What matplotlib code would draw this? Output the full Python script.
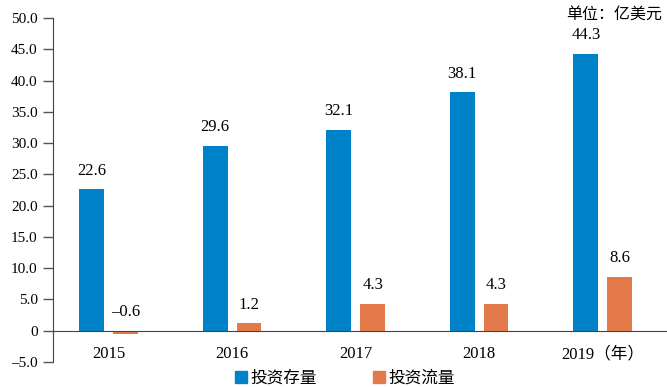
import numpy as np
import matplotlib.pyplot as plt
from matplotlib.lines import Line2D

years = ['2015', '2016', '2017', '2018', '2019（年）']
stock = [22.6, 29.6, 32.1, 38.1, 44.3]
flow = [-0.6, 1.2, 4.3, 4.3, 8.6]
flow_labels = ['–0.6', '1.2', '4.3', '4.3', '8.6']
yticks = [-5, 0, 5, 10, 15, 20, 25, 30, 35, 40, 45, 50]
ytick_labels = ['–5.0', '0', '5.0', '10.0', '15.0', '20.0', '25.0', '30.0',
                '35.0', '40.0', '45.0', '50.0']

blue = '#0082C8'
orange = '#E4794A'
fam = ['Liberation Serif', 'Noto Sans CJK SC']
cjk = ['Noto Sans CJK SC', 'DejaVu Sans']
plt.rcParams['font.family'] = fam

fig = plt.figure(figsize=(6.67, 3.87), dpi=100)
ax = fig.add_axes([53/667, 25/387, 1 - 53/667, 1 - 18/387 - 25/387])

x = np.arange(len(years))
w = 0.2
off = 0.137
ax.bar(x - off, stock, w, color=blue)
ax.bar(x + off, flow, w, color=orange)

for i in range(len(x)):
    ax.text(x[i] - off, stock[i] + 1.7, '%.1f' % stock[i], ha='center', va='bottom', fontsize=12)
    ax.text(x[i] + off, max(flow[i], 0) + 1.7, flow_labels[i], ha='center', va='bottom', fontsize=12)

ax.set_xlim(-0.45, 4.52)
ax.set_ylim(-5, 50)
ax.set_yticks(yticks)
ax.set_yticklabels(ytick_labels, fontsize=11)
ax.tick_params(axis='y', length=7, width=1, color='#555555', direction='out', pad=4)

ax.spines['top'].set_visible(False)
ax.spines['right'].set_visible(False)
ax.spines['left'].set_color('#444444')
ax.spines['bottom'].set_position(('data', 0))
ax.spines['bottom'].set_color('#444444')
ax.set_xticks(x)
ax.set_xticklabels(years, fontsize=12)
for lab in ax.get_xticklabels():
    lab.set_family(fam)
ax.tick_params(axis='x', length=0, pad=11)

fig.text(0.993, 0.962, '单位：亿美元', ha='right', va='center', fontsize=11.5, family=cjk)

handles = [Line2D([], [], marker='s', ls='', color=blue, markersize=9),
           Line2D([], [], marker='s', ls='', color=orange, markersize=9)]
leg = fig.legend(handles, ['投资存量', '投资流量'], loc='center', bbox_to_anchor=(343/667, 1 - 378/387),
                 ncol=2, frameon=False, prop={'family': cjk, 'size': 12},
                 handletextpad=0.0, columnspacing=3.1, handlelength=1.2)

fig.savefig('out.png', dpi=100)
